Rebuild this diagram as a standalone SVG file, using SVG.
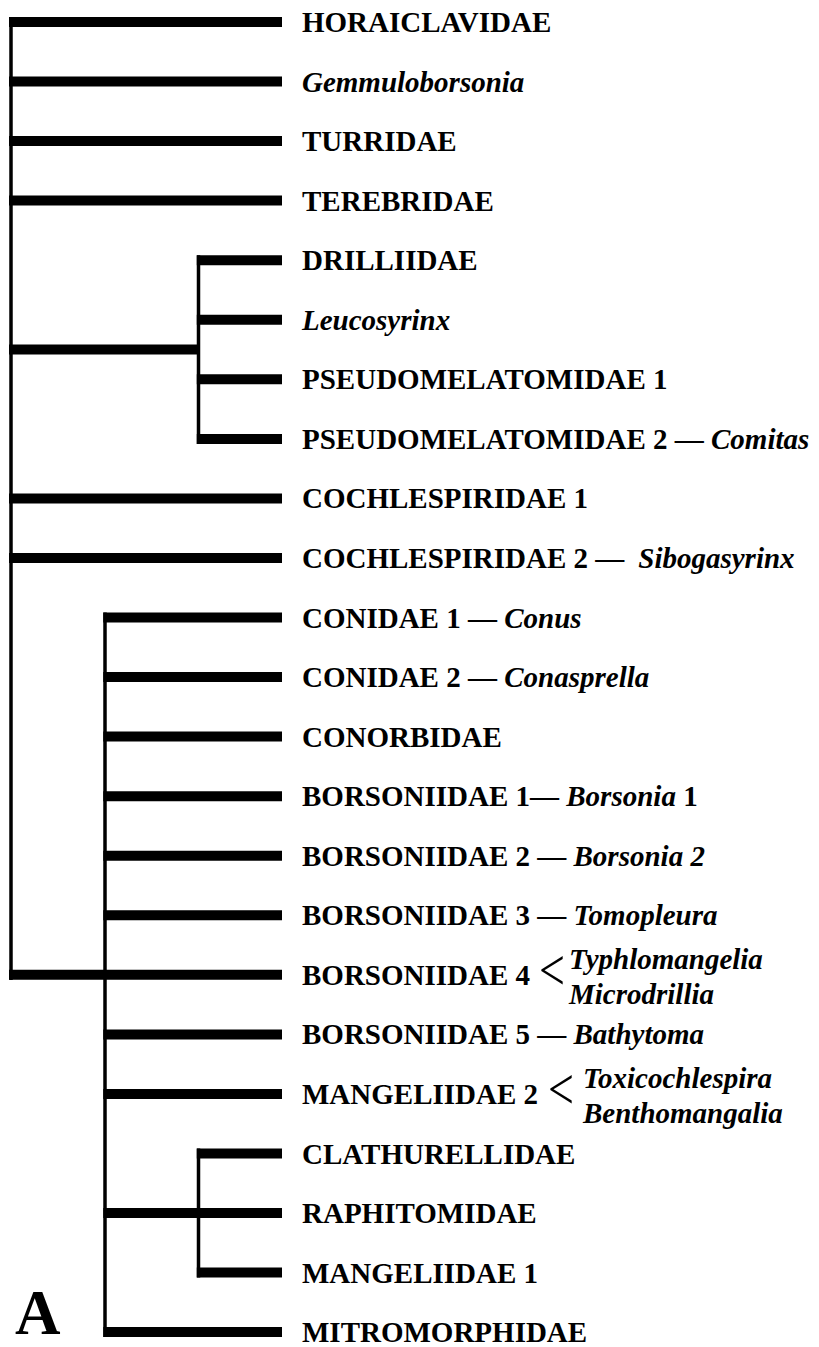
<svg xmlns="http://www.w3.org/2000/svg" width="819" height="1347" viewBox="0 0 819 1347">
<style>
.t{font-family:"Liberation Serif","Times New Roman",serif;font-size:29px;font-weight:bold;fill:#000}
.i{font-style:italic}
.lt{font-family:"Liberation Serif","Times New Roman",serif;font-size:46px;font-weight:normal;fill:#000}
.big{font-family:"Liberation Serif","Times New Roman",serif;font-size:63px;font-weight:bold;fill:#000}
.b{stroke:#000;stroke-width:10;fill:none}
.v{stroke:#000;stroke-width:3.5;fill:none}
</style>
<rect width="819" height="1347" fill="#fff"/>
<g id="connectors">
  <line class="v" x1="11" y1="17" x2="11" y2="980"/>
  <line class="b" x1="9" y1="22" x2="282" y2="22"/>
  <line class="b" x1="9" y1="81.5" x2="282" y2="81.5"/>
  <line class="b" x1="9" y1="141" x2="282" y2="141"/>
  <line class="b" x1="9" y1="200.6" x2="282" y2="200.6"/>
  <line class="b" x1="9" y1="349.5" x2="198" y2="349.5"/>
  <line class="v" x1="198.5" y1="255.2" x2="198.5" y2="443.9"/>
  <line class="b" x1="196.8" y1="260.2" x2="282" y2="260.2"/>
  <line class="b" x1="196.8" y1="319.7" x2="282" y2="319.7"/>
  <line class="b" x1="196.8" y1="379.3" x2="282" y2="379.3"/>
  <line class="b" x1="196.8" y1="438.9" x2="282" y2="438.9"/>
  <line class="b" x1="9" y1="498.4" x2="282" y2="498.4"/>
  <line class="b" x1="9" y1="558" x2="282" y2="558"/>
  <line class="b" x1="9" y1="974.8" x2="282" y2="974.8"/>
  <line class="v" x1="105" y1="612.5" x2="105" y2="1337.1"/>
  <line class="b" x1="103.3" y1="617.5" x2="282" y2="617.5"/>
  <line class="b" x1="103.3" y1="677" x2="282" y2="677"/>
  <line class="b" x1="103.3" y1="736.6" x2="282" y2="736.6"/>
  <line class="b" x1="103.3" y1="796.2" x2="282" y2="796.2"/>
  <line class="b" x1="103.3" y1="855.7" x2="282" y2="855.7"/>
  <line class="b" x1="103.3" y1="915.2" x2="282" y2="915.2"/>
  <line class="b" x1="103.3" y1="1034.4" x2="282" y2="1034.4"/>
  <line class="b" x1="103.3" y1="1093.9" x2="282" y2="1093.9"/>
  <line class="b" x1="103.3" y1="1213" x2="282" y2="1213"/>
  <line class="b" x1="103.3" y1="1332.1" x2="282" y2="1332.1"/>
  <line class="v" x1="198.5" y1="1148.5" x2="198.5" y2="1277.5"/>
  <line class="b" x1="196.8" y1="1153.5" x2="282" y2="1153.5"/>
  <line class="b" x1="196.8" y1="1272.5" x2="282" y2="1272.5"/>
</g>
<g id="n-horaiclavidae"><text class="t" x="302" y="32">HORAICLAVIDAE</text></g>
<g id="n-gemmuloborsonia"><text class="t i" x="302" y="91.5">Gemmuloborsonia</text></g>
<g id="n-turridae"><text class="t" x="302" y="151">TURRIDAE</text></g>
<g id="n-terebridae"><text class="t" x="302" y="210.6">TEREBRIDAE</text></g>
<g id="n-drilliidae"><text class="t" x="302" y="270.2">DRILLIIDAE</text></g>
<g id="n-leucosyrinx"><text class="t i" x="302" y="329.7">Leucosyrinx</text></g>
<g id="n-pseudomelatomidae1"><text class="t" x="302" y="389.3">PSEUDOMELATOMIDAE 1</text></g>
<g id="n-pseudomelatomidae2"><text class="t" x="302" y="448.9">PSEUDOMELATOMIDAE 2 — <tspan class="i">Comitas</tspan></text></g>
<g id="n-cochlespiridae1"><text class="t" x="302" y="508.4">COCHLESPIRIDAE 1</text></g>
<g id="n-cochlespiridae2"><text class="t" x="302" y="568">COCHLESPIRIDAE 2 —<tspan class="i" dx="14">Sibogasyrinx</tspan></text></g>
<g id="n-conidae1"><text class="t" x="302" y="627.5">CONIDAE 1 — <tspan class="i">Conus</tspan></text></g>
<g id="n-conidae2"><text class="t" x="302" y="687">CONIDAE 2 — <tspan class="i">Conasprella</tspan></text></g>
<g id="n-conorbidae"><text class="t" x="302" y="746.6">CONORBIDAE</text></g>
<g id="n-borsoniidae1"><text class="t" x="302" y="806.2">BORSONIIDAE 1— <tspan class="i">Borsonia</tspan> 1</text></g>
<g id="n-borsoniidae2"><text class="t" x="302" y="865.7">BORSONIIDAE 2 — <tspan class="i">Borsonia 2</tspan></text></g>
<g id="n-borsoniidae3"><text class="t" x="302" y="925.2">BORSONIIDAE 3 — <tspan class="i">Tomopleura</tspan></text></g>
<g id="n-borsoniidae4">
  <text class="t" x="302" y="984.8">BORSONIIDAE 4</text>
  <text class="lt" transform="translate(539 989.8) scale(1 1.3)">&lt;</text>
  <text class="t i" x="569" y="968.8">Typhlomangelia</text>
  <text class="t i" x="569" y="1003.8">Microdrillia</text>
</g>
<g id="n-borsoniidae5"><text class="t" x="302" y="1044.4">BORSONIIDAE 5 — <tspan class="i">Bathytoma</tspan></text></g>
<g id="n-mangeliidae2">
  <text class="t" x="302" y="1103.9">MANGELIIDAE 2</text>
  <text class="lt" transform="translate(548 1108.9) scale(1 1.3)">&lt;</text>
  <text class="t i" x="583" y="1087.9">Toxicochlespira</text>
  <text class="t i" x="583" y="1122.9">Benthomangalia</text>
</g>
<g id="n-clathurellidae"><text class="t" x="302" y="1163.5">CLATHURELLIDAE</text></g>
<g id="n-raphitomidae"><text class="t" x="302" y="1223">RAPHITOMIDAE</text></g>
<g id="n-mangeliidae1"><text class="t" x="302" y="1282.5">MANGELIIDAE 1</text></g>
<g id="n-mitromorphidae"><text class="t" x="302" y="1342.1">MITROMORPHIDAE</text></g>
<g id="label-a"><text class="big" x="15" y="1334">A</text></g>
</svg>
